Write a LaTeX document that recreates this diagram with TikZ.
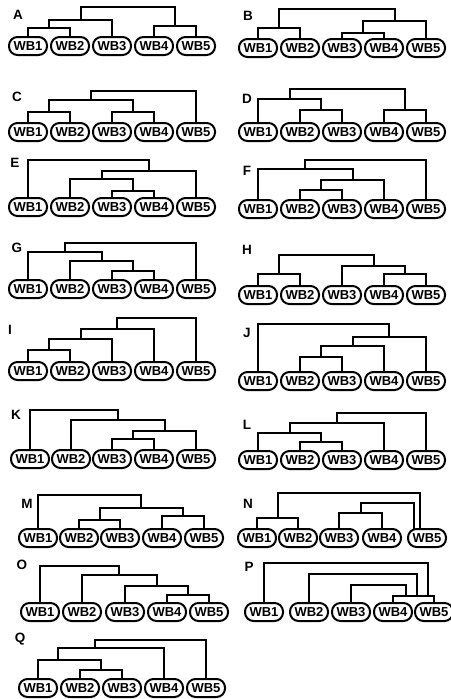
\documentclass[tikz,border=0pt]{standalone}
\usepackage{fontspec}
\setmainfont{Liberation Sans}
\newcommand\fiveleaves[7]{%
 \node[leaf] (#11) at (#3,#2) {WB1};
 \node[leaf] (#12) at (#4,#2) {WB2};
 \node[leaf] (#13) at (#5,#2) {WB3};
 \node[leaf] (#14) at (#6,#2) {WB4};
 \node[leaf] (#15) at (#7,#2) {WB5};}
\newcommand\mjoin[3]{\draw[tree] (#1) |- (#3) -| (#2);}
\begin{document}
\begin{tikzpicture}[x=1pt,y=-1pt,
 leaf/.style={draw,line width=2pt,rounded corners=8.5pt,minimum width=38pt,minimum height=18pt,inner sep=0pt,font=\bfseries\fontsize{13}{13}\selectfont},
 tree/.style={line width=2pt},
 plab/.style={font=\bfseries\fontsize{13.5}{13.5}\selectfont,inner sep=0pt}]
\useasboundingbox (0,0) rectangle (450,699);
% A
\fiveleaves{A}{46}{28}{70}{112}{154}{196}
\coordinate (a12) at (49,28);
\coordinate (a45) at (175,26);
\coordinate (a123) at (80.5,20);
\coordinate (aR) at (127.75,7);
\mjoin{A1.north}{A2.north}{a12}
\mjoin{a12}{A3.north}{a123}
\mjoin{A4.north}{A5.north}{a45}
\mjoin{a123}{a45}{aR}
\node[plab] (LA) at (18,15) {A};
% B
\fiveleaves{B}{48}{258}{300}{342}{384}{426}
\coordinate (b12) at (279,28);
\coordinate (b34) at (363,33);
\coordinate (b345) at (394.5,21);
\coordinate (bR) at (336.75,9);
\mjoin{B1.north}{B2.north}{b12}
\mjoin{B3.north}{B4.north}{b34}
\mjoin{b34}{B5.north}{b345}
\mjoin{b12}{b345}{bR}
\node[plab] (LB) at (248,16) {B};
% C
\fiveleaves{C}{132}{28}{70}{112}{154}{196}
\coordinate (c12) at (49,112);
\coordinate (c34) at (133,112);
\coordinate (c1234) at (91,100);
\coordinate (cR) at (143.5,91);
\mjoin{C1.north}{C2.north}{c12}
\mjoin{C3.north}{C4.north}{c34}
\mjoin{c12}{c34}{c1234}
\mjoin{c1234}{C5.north}{cR}
\node[plab] (LC) at (17,97) {C};
% D
\fiveleaves{D}{132}{258}{300}{342}{384}{426}
\coordinate (d23) at (321,110);
\coordinate (d123) at (289.5,99);
\coordinate (d45) at (405,110);
\coordinate (dR) at (347.25,89);
\mjoin{D2.north}{D3.north}{d23}
\mjoin{D1.north}{d23}{d123}
\mjoin{D4.north}{D5.north}{d45}
\mjoin{d123}{d45}{dR}
\node[plab] (LD) at (247,99) {D};
% E
\fiveleaves{E}{207}{28}{70}{112}{154}{196}
\coordinate (e34) at (133,191);
\coordinate (e234) at (101.5,179);
\coordinate (e2345) at (148.75,171);
\coordinate (eR) at (88.4,160);
\mjoin{E3.north}{E4.north}{e34}
\mjoin{E2.north}{e34}{e234}
\mjoin{e234}{E5.north}{e2345}
\mjoin{E1.north}{e2345}{eR}
\node[plab] (LE) at (15,163) {E};
% F
\fiveleaves{F}{209}{258}{300}{342}{384}{426}
\coordinate (f23) at (321,190);
\coordinate (f234) at (352.5,180);
\coordinate (f1234) at (305.25,169);
\coordinate (fR) at (365.6,160);
\mjoin{F2.north}{F3.north}{f23}
\mjoin{f23}{F4.north}{f234}
\mjoin{F1.north}{f234}{f1234}
\mjoin{f1234}{F5.north}{fR}
\node[plab] (LF) at (247,171) {F};
% G
\fiveleaves{G}{289}{28}{70}{112}{154}{196}
\coordinate (g34) at (133,271);
\coordinate (g234) at (101.5,261);
\coordinate (g1234) at (64.75,252);
\coordinate (gR) at (130.4,243);
\mjoin{G3.north}{G4.north}{g34}
\mjoin{G2.north}{g34}{g234}
\mjoin{G1.north}{g234}{g1234}
\mjoin{g1234}{G5.north}{gR}
\node[plab] (LG) at (17,248) {G};
% H
\fiveleaves{H}{295}{258}{300}{342}{384}{426}
\coordinate (h12) at (279,274);
\coordinate (h45) at (405,274);
\coordinate (h345) at (373.5,266);
\coordinate (hR) at (326.25,255);
\mjoin{H1.north}{H2.north}{h12}
\mjoin{H4.north}{H5.north}{h45}
\mjoin{H3.north}{h45}{h345}
\mjoin{h12}{h345}{hR}
\node[plab] (LH) at (247,250) {H};
% I
\fiveleaves{I}{371}{28}{70}{112}{154}{196}
\coordinate (i12) at (49,350);
\coordinate (i123) at (80.5,339);
\coordinate (i1234) at (117.25,329);
\coordinate (iR) at (156.6,318);
\mjoin{I1.north}{I2.north}{i12}
\mjoin{i12}{I3.north}{i123}
\mjoin{i123}{I4.north}{i1234}
\mjoin{i1234}{I5.north}{iR}
\node[plab] (LI) at (10,330) {I};
% J
\fiveleaves{J}{381}{258}{300}{342}{384}{426}
\coordinate (j23) at (321,357);
\coordinate (j234) at (352.5,346);
\coordinate (j2345) at (389.25,337);
\coordinate (jR) at (323.6,324);
\mjoin{J2.north}{J3.north}{j23}
\mjoin{j23}{J4.north}{j234}
\mjoin{j234}{J5.north}{j2345}
\mjoin{J1.north}{j2345}{jR}
\node[plab] (LJ) at (247,333) {J};
% K
\fiveleaves{K}{459}{30}{71}{112}{154}{196}
\coordinate (k34) at (133,439);
\coordinate (k345) at (164.5,431);
\coordinate (k2345) at (117.75,420);
\coordinate (kR) at (73.9,410);
\mjoin{K3.north}{K4.north}{k34}
\mjoin{k34}{K5.north}{k345}
\mjoin{K2.north}{k345}{k2345}
\mjoin{K1.north}{k2345}{kR}
\node[plab] (LK) at (16,415) {K};
% L
\fiveleaves{L}{460}{258}{300}{342}{384}{426}
\coordinate (l23) at (321,442);
\coordinate (l123) at (289.5,433);
\coordinate (l1234) at (336.75,423);
\coordinate (lR) at (381.4,413);
\mjoin{L2.north}{L3.north}{l23}
\mjoin{L1.north}{l23}{l123}
\mjoin{l123}{L4.north}{l1234}
\mjoin{l1234}{L5.north}{lR}
\node[plab] (LL) at (247,425) {L};
% M
\fiveleaves{M}{538}{38}{79}{120}{162}{204}
\coordinate (m23) at (99.5,520);
\coordinate (m45) at (183,516);
\coordinate (m2345) at (141.25,508);
\coordinate (mR) at (89.6,495);
\mjoin{M2.north}{M3.north}{m23}
\mjoin{M4.north}{M5.north}{m45}
\mjoin{m23}{m45}{m2345}
\mjoin{M1.north}{m2345}{mR}
\node[plab] (LM) at (27,504) {M};
% N
\fiveleaves{N}{538}{257}{298}{339}{382}{427}
\coordinate (n12) at (277.5,518);
\coordinate (n34) at (360.5,513);
\coordinate (n5a) at (414,529);
\coordinate (n5b) at (420,529);
\coordinate (n345) at (387,503);
\coordinate (nR) at (348,493);
\mjoin{N1.north}{N2.north}{n12}
\mjoin{N3.north}{N4.north}{n34}
\mjoin{n34}{n5a}{n345}
\mjoin{n12}{n5b}{nR}
\node[plab] (LN) at (248,504) {N};
% O
\fiveleaves{O}{612}{40}{82}{125}{167}{209}
\coordinate (o45) at (188,595);
\coordinate (o345) at (156.5,586);
\coordinate (o2345) at (119.25,575);
\coordinate (oR) at (79.6,566);
\mjoin{O4.north}{O5.north}{o45}
\mjoin{O3.north}{o45}{o345}
\mjoin{O2.north}{o345}{o2345}
\mjoin{O1.north}{o2345}{oR}
\node[plab] (LO) at (22,565) {O};
% P
\fiveleaves{P}{612}{264}{309}{351}{393}{434}
\coordinate (p45) at (413.5,596);
\coordinate (pa) at (406,596);
\coordinate (pb) at (417,596);
\coordinate (pc) at (428,596);
\coordinate (p3t) at (379,585);
\coordinate (p2t) at (363,574);
\coordinate (p1t) at (346,563);
\mjoin{P4.north}{P5.north}{p45}
\mjoin{P3.north}{pa}{p3t}
\mjoin{P2.north}{pb}{p2t}
\mjoin{P1.north}{pc}{p1t}
\node[plab] (LP) at (249,567) {P};
% Q
\fiveleaves{Q}{688}{38}{80}{122}{164}{206}
\coordinate (q23) at (101,670);
\coordinate (q123t) at (69.5,660);
\coordinate (q123) at (58,660);
\coordinate (q1234t) at (110.5,648);
\coordinate (q1234) at (95,648);
\coordinate (qR) at (150.5,640);
\mjoin{Q2.north}{Q3.north}{q23}
\mjoin{Q1.north}{q23}{q123t}
\draw[tree] (q123) |- (q1234t) -| (Q4.north);
\draw[tree] (q1234) |- (qR) -| (Q5.north);
\node[plab] (LQ) at (20,639) {Q};
\end{tikzpicture}
\end{document}
